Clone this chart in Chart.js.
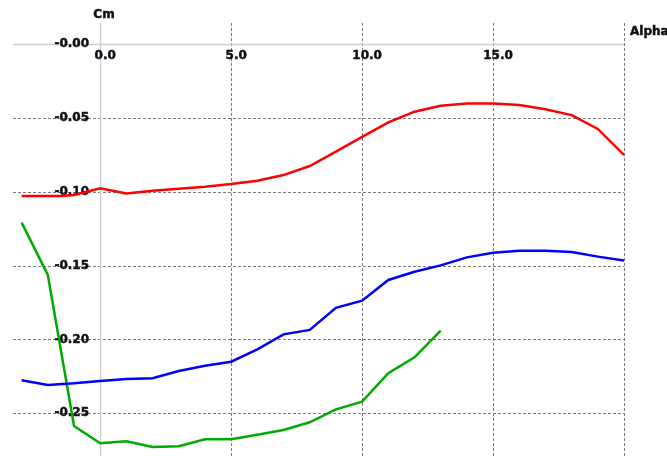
<!DOCTYPE html>
<html>
<head>
<meta charset="utf-8">
<script src="https://cdn.jsdelivr.net/npm/chart.js@4"></script>
<style>
  html, body { margin: 0; padding: 0; background: #fff; }
  #wrap { width: 667px; height: 456px; }
</style>
</head>
<body>
<div id="wrap"><canvas id="cmChart" width="667" height="456"></canvas></div>
<script>
// Cm vs Alpha polars
const redAlpha = [-3, -2, -1.5, -1, 0, 1, 2, 3, 4, 5, 6, 7, 8, 9, 10, 11, 12, 13, 14, 15, 16, 17, 18, 19, 20];
const redCm = [-0.1030, -0.1030, -0.1030, -0.1023, -0.0977, -0.1012, -0.0994, -0.0980, -0.0967, -0.0949, -0.0926,
    -0.0888, -0.0827, -0.0730, -0.0629, -0.0531, -0.0459, -0.0419, -0.0403, -0.0403, -0.0414, -0.0443, -0.0482,
    -0.0576, -0.0752];

const blueAlpha = [-3, -2, -1, 0, 1, 2, 3, 4, 5, 6, 7, 8, 9, 10, 11, 12, 13, 14, 15, 16, 17, 18, 19, 20];
const blueCm = [-0.2277, -0.2308, -0.2297, -0.2281, -0.2268, -0.2263, -0.2214, -0.2178, -0.2151, -0.2068, -0.1966,
    -0.1936, -0.1786, -0.1738, -0.1598, -0.1542, -0.1499, -0.1445, -0.1413, -0.1400, -0.1400, -0.1409, -0.1440,
    -0.1467];

const greenAlpha = [-3, -2, -1, 0, 1, 2, 3, 4, 5, 6, 7, 8, 9, 10, 11, 12, 13];
const greenCm = [-0.1210, -0.1564, -0.2586, -0.2703, -0.2690, -0.2728, -0.2723, -0.2676, -0.2676, -0.2645, -0.2613,
    -0.2561, -0.2473, -0.2421, -0.2229, -0.2121, -0.1941];

// ticks
const xGrid = [5, 10, 15, 20];
const xTickValues = [0, 5, 10, 15];
const xTickLabels = ['0.0', '5.0', '10.0', '15.0'];
const yTickValues = [0, -0.05, -0.10, -0.15, -0.20, -0.25];
const yTickLabels = ['-0.00', '-0.05', '-0.10', '-0.15', '-0.20', '-0.25'];

function toPoints(xs, ys) {
    return xs.map((a, i) => ({ x: a, y: ys[i] }));
}

const labelFont = 'bold 12px "DejaVu Sans", Verdana, sans-serif';

// heavier text: fill plus a thin stroke
function boldText(ctx, txt, x, y) {
    ctx.fillText(txt, x, y);
    ctx.strokeText(txt, x, y);
}

// grid, axes and labels drawn under the curves
const axesPlugin = {
    id: 'axesPlugin',
    beforeDatasetsDraw(chart) {
        const ctx = chart.ctx;
        const area = chart.chartArea;
        const xs = chart.scales.x;
        const ys = chart.scales.y;
        const x0 = Math.round(xs.getPixelForValue(0));
        const y0 = Math.round(ys.getPixelForValue(0));

        ctx.save();
        // dashed grid
        ctx.strokeStyle = '#7a7a7a';
        ctx.lineWidth = 1;
        ctx.setLineDash([3, 2]);
        xGrid.forEach(v => {
            const px = Math.round(xs.getPixelForValue(v)) + 0.5;
            ctx.beginPath();
            ctx.moveTo(px, area.top);
            ctx.lineTo(px, area.bottom);
            ctx.stroke();
        });
        yTickValues.forEach(v => {
            if (v === 0) return;
            const py = Math.round(ys.getPixelForValue(v)) + 0.5;
            ctx.beginPath();
            ctx.moveTo(area.left, py);
            ctx.lineTo(area.right, py);
            ctx.stroke();
        });

        // zero axes
        ctx.setLineDash([]);
        ctx.strokeStyle = '#cfcfcf';
        ctx.lineWidth = 1.5;
        ctx.beginPath();
        ctx.moveTo(area.left, y0 + 0.5);
        ctx.lineTo(area.right, y0 + 0.5);
        ctx.moveTo(x0 + 0.5, area.top);
        ctx.lineTo(x0 + 0.5, area.bottom);
        ctx.stroke();

        // tick labels
        ctx.fillStyle = '#101018';
        ctx.strokeStyle = '#101018';
        ctx.lineWidth = 0.5;
        ctx.font = labelFont;
        ctx.textBaseline = 'middle';
        ctx.textAlign = 'right';
        yTickValues.forEach((v, i) => {
            boldText(ctx, yTickLabels[i], x0 - 11, ys.getPixelForValue(v));
        });
        ctx.textAlign = 'center';
        xTickValues.forEach((v, i) => {
            boldText(ctx, xTickLabels[i], xs.getPixelForValue(v) + 5, y0 + 12);
        });

        // axis titles
        ctx.textAlign = 'center';
        boldText(ctx, 'Cm', x0 + 4, 15);
        ctx.textAlign = 'left';
        boldText(ctx, 'Alpha', area.right + 6, y0 - 12);
        ctx.restore();
    }
};

const lineStyle = { showLine: true, pointRadius: 0, borderWidth: 2.5, tension: 0, fill: false };

new Chart(document.getElementById('cmChart'), {
    type: 'scatter',
    data: {
        datasets: [
            { ...lineStyle, label: 'red', data: toPoints(redAlpha, redCm), borderColor: '#ff0000' },
            { ...lineStyle, label: 'blue', data: toPoints(blueAlpha, blueCm), borderColor: '#0000ff' },
            { ...lineStyle, label: 'green', data: toPoints(greenAlpha, greenCm), borderColor: '#00aa00' }
        ]
    },
    options: {
        responsive: false,
        animation: false,
        layout: { padding: { left: 13, right: 43, top: 23, bottom: 0 } },
        plugins: { legend: { display: false }, tooltip: { enabled: false } },
        scales: {
            x: { type: 'linear', min: -3.33, max: 20, display: false },
            y: { type: 'linear', min: -0.2789, max: 0.0141, display: false }
        }
    },
    plugins: [axesPlugin]
});
</script>
</body>
</html>
